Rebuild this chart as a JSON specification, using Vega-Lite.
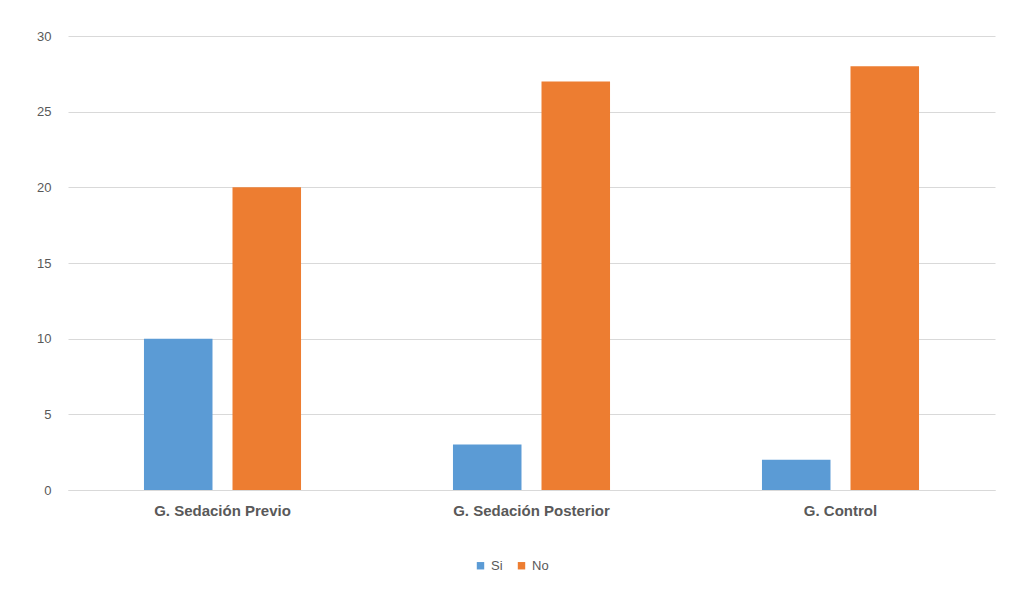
{
  "$schema": "https://vega.github.io/schema/vega-lite/v6.json",
  "autosize": {"type": "none"},
  "width": 927,
  "height": 454,
  "padding": {"left": 68, "top": 36, "right": 15, "bottom": 103},
  "background": "white",
  "data": {
    "values": [
      {"grupo": "G. Sedación Previo", "resp": "Si", "n": 10},
      {"grupo": "G. Sedación Previo", "resp": "No", "n": 20},
      {"grupo": "G. Sedación Posterior", "resp": "Si", "n": 3},
      {"grupo": "G. Sedación Posterior", "resp": "No", "n": 27},
      {"grupo": "G. Control", "resp": "Si", "n": 2},
      {"grupo": "G. Control", "resp": "No", "n": 28}
    ]
  },
  "mark": {"type": "bar"},
  "encoding": {
    "x": {
      "field": "grupo", "type": "nominal",
      "sort": ["G. Sedación Previo", "G. Sedación Posterior", "G. Control"],
      "scale": {"paddingInner": 0, "paddingOuter": 0},
      "axis": {
        "title": null, "labelAngle": 0, "ticks": false,
        "domainColor": "#d9d9d9", "labelFont": "Liberation Sans",
        "labelFontWeight": "bold", "labelFontSize": 15, "labelColor": "#595959",
        "labelPadding": 13
      }
    },
    "xOffset": {
      "field": "resp", "type": "nominal", "sort": ["Si", "No"],
      "scale": {"paddingInner": 0.226, "paddingOuter": 0.858}
    },
    "y": {
      "field": "n", "type": "quantitative",
      "scale": {"domain": [0, 30]},
      "axis": {
        "title": null, "values": [0, 5, 10, 15, 20, 25, 30], "domain": false, "ticks": false,
        "gridColor": "#d9d9d9", "labelFont": "Liberation Sans", "labelFontSize": 13,
        "labelColor": "#595959", "labelPadding": 17
      }
    },
    "color": {
      "field": "resp", "type": "nominal", "sort": ["Si", "No"],
      "scale": {"domain": ["Si", "No"], "range": ["#5B9BD5", "#ED7D31"]},
      "legend": {
        "title": null, "orient": "none", "legendX": 406, "legendY": 523, "direction": "horizontal",
        "symbolType": "square", "symbolSize": 55, "labelFont": "Liberation Sans",
        "labelFontSize": 13, "labelColor": "#595959", "columnPadding": 12, "labelOffset": 4
      }
    }
  },
  "config": {"view": {"stroke": null}}
}
